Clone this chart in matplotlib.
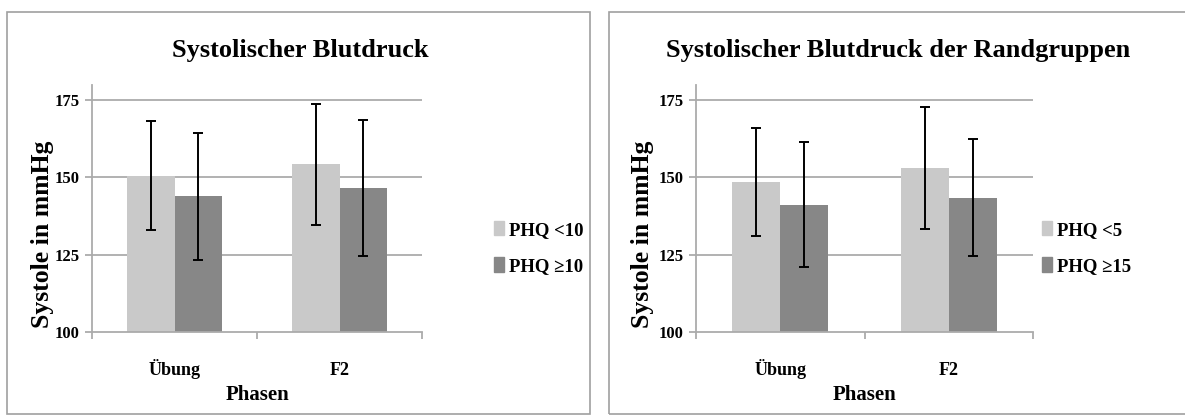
import numpy as np
import matplotlib.pyplot as plt
from matplotlib.patches import Rectangle, Patch

# data
phases = ['Übung', 'F2']

# left chart
left_title = 'Systolischer Blutdruck'
left_groups = ['PHQ <10', 'PHQ ≥10']
left_low_mean = [150.5, 154.2]
left_low_sd = [17.6, 19.6]
left_high_mean = [143.8, 146.5]
left_high_sd = [20.4, 21.9]

# right chart
right_title = 'Systolischer Blutdruck der Randgruppen'
right_groups = ['PHQ <5', 'PHQ ≥15']
right_low_mean = [148.6, 153.0]
right_low_sd = [17.5, 19.6]
right_high_mean = [141.2, 143.4]
right_high_sd = [20.3, 18.9]

yticks = [100, 125, 150, 175]

light = '#c9c9c9'
dark = '#878787'
grid_col = '#ababab'

plt.rcParams['font.family'] = ['Liberation Serif', 'DejaVu Serif']
plt.rcParams['font.weight'] = 'bold'

W, H = 1185, 416
fig = plt.figure(figsize=(W / 100, H / 100), dpi=100)

# panel borders (pixel coords)
def px_rect(x0, y0, x1, y1):
    return Rectangle((x0 / W, 1 - y1 / H), (x1 - x0) / W, (y1 - y0) / H,
                     transform=fig.transFigure, fill=False, edgecolor='#a0a0a0', lw=1.2)

fig.patches.append(px_rect(7, 12, 590, 414))
fig.patches.append(px_rect(609, 12, 1190, 414))


def draw_panel(x0, x1, title, title_x, groups, m1, s1, m2, s2, leg_x, ylab_x):
    y_top, y_bot = 84.5, 332
    ah = y_bot - y_top
    ax = fig.add_axes([x0 / W, 1 - y_bot / H, (x1 - x0) / W, ah / H])
    x = np.arange(len(phases))
    w = 0.285
    ek = dict(ecolor='black', elinewidth=1.4, capsize=3.5, capthick=1.4)
    ax.bar(x - w / 2, m1, w, yerr=s1, color=light, error_kw=ek, zorder=2)
    ax.bar(x + w / 2, m2, w, yerr=s2, color=dark, error_kw=ek, zorder=2)
    ax.set_ylim(100, 180)
    ax.set_xlim(-0.5, len(phases) - 0.5)
    ax.set_yticks(yticks)
    ax.set_yticklabels([str(t) for t in yticks], fontsize=12, fontweight='bold')
    for t in yticks[1:]:
        ax.axhline(t, color=grid_col, lw=1.3, zorder=1)
    ax.set_xticks(np.arange(len(phases) + 1) - 0.5)
    ax.set_xticklabels([])
    # category names, drawn on a common baseline
    for xi, name in zip(x, phases):
        ax.text(xi, -43 / ah, name, ha='center', va='baseline',
                transform=ax.get_xaxis_transform(), fontsize=13, fontweight='bold')
    ax.tick_params(axis='x', which='major', length=5, color=grid_col, width=1.3)
    ax.tick_params(axis='y', length=5, color=grid_col, width=1.3, pad=4)
    for s in ['top', 'right']:
        ax.spines[s].set_visible(False)
    for s in ['left', 'bottom']:
        ax.spines[s].set_color(grid_col)
        ax.spines[s].set_linewidth(1.3)
    ax.set_ylabel('Systole in mmHg', fontsize=18.5, fontweight='bold', va='center')
    ax.yaxis.set_label_coords((ylab_x - x0) / (x1 - x0), (y_bot - 234) / ah)
    ax.set_xlabel('Phasen', fontsize=15, fontweight='bold', va='baseline')
    ax.xaxis.set_label_coords(0.5, -(400 - y_bot) / ah)
    fig.text(title_x / W, 1 - 50 / H, title, ha='center', va='center',
             fontsize=19, fontweight='bold')
    handles = [Patch(color=light), Patch(color=dark)]
    ax.legend(handles, groups, loc='center left', bbox_to_anchor=(leg_x / W, 1 - 248 / H),
              bbox_transform=fig.transFigure, frameon=False, handlelength=0.55,
              handleheight=0.8, handletextpad=0.25, labelspacing=1.0,
              prop=dict(size=13.5, weight='bold'), borderaxespad=0, borderpad=0)
    return ax


draw_panel(92, 422, left_title, 300, left_groups, left_low_mean, left_low_sd,
           left_high_mean, left_high_sd, 494, 43)
draw_panel(696, 1033, right_title, 898, right_groups, right_low_mean, right_low_sd,
           right_high_mean, right_high_sd, 1042, 643)

fig.savefig('out.png', dpi=100)
